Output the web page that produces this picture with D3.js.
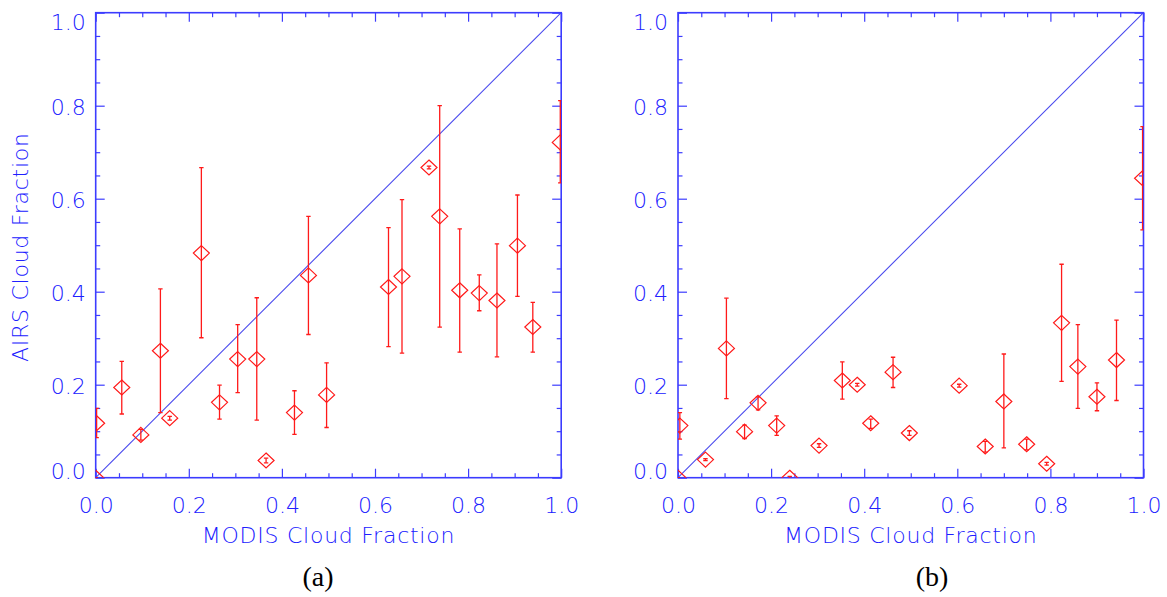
<!DOCTYPE html>
<html>
<head>
<meta charset="utf-8">
<script src="https://cdn.jsdelivr.net/npm/d3@7"></script>
<style>
  body { margin: 0; background: #fff; }
  .lbl { font-family: 'DejaVu Sans', sans-serif; font-weight: 200; font-size: 22px; }
</style>
</head>
<body>
<div id="chart"></div>
<script>
// ---- data: panel (a) ----
const modisA = [0.0, 0.002, 0.056, 0.097, 0.139, 0.159, 0.227, 0.266, 0.305, 0.346, 0.366, 0.427,
                0.457, 0.496, 0.629, 0.658, 0.716, 0.739, 0.782, 0.824, 0.862, 0.906, 0.939, 0.998];
const airsA  = [0.0, 0.117, 0.194, 0.092, 0.273, 0.128, 0.483, 0.162, 0.255, 0.255, 0.037, 0.140,
                0.435, 0.178, 0.410, 0.433, 0.667, 0.562, 0.403, 0.397, 0.381, 0.499, 0.324, 0.721];
const lowA   = [0.0, 0.086, 0.137, 0.081, 0.140, 0.124, 0.301, 0.126, 0.183, 0.124, 0.032, 0.093,
                0.308, 0.108, 0.282, 0.268, 0.664, 0.324, 0.270, 0.359, 0.260, 0.390, 0.270, 0.634];
const highA  = [0.0, 0.149, 0.250, 0.104, 0.406, 0.132, 0.667, 0.199, 0.329, 0.387, 0.042, 0.187,
                0.562, 0.247, 0.538, 0.598, 0.670, 0.800, 0.535, 0.436, 0.503, 0.608, 0.377, 0.811];

// ---- data: panel (b) ----
const modisB = [0.0, 0.004, 0.059, 0.104, 0.143, 0.172, 0.212, 0.240, 0.303, 0.353, 0.385, 0.414,
                0.462, 0.497, 0.604, 0.660, 0.700, 0.749, 0.792, 0.824, 0.859, 0.900, 0.942, 0.998];
const airsB  = [0.0, 0.112, 0.039, 0.278, 0.099, 0.161, 0.112, 0.0, 0.069, 0.209, 0.200, 0.117,
                0.227, 0.096, 0.198, 0.067, 0.164, 0.072, 0.030, 0.333, 0.239, 0.174, 0.253, 0.644];
const lowB   = [0.0, 0.083, 0.037, 0.170, 0.084, 0.146, 0.091, -0.003, 0.065, 0.169, 0.197, 0.106,
                0.194, 0.091, 0.195, 0.055, 0.064, 0.060, 0.027, 0.207, 0.149, 0.144, 0.166, 0.533];
const highB  = [0.0, 0.140, 0.041, 0.386, 0.113, 0.174, 0.133, 0.003, 0.073, 0.249, 0.203, 0.126,
                0.259, 0.101, 0.201, 0.078, 0.266, 0.083, 0.033, 0.459, 0.329, 0.204, 0.339, 0.755];

// ---- ticks / labels ----
const majorTicks = [0, 0.2, 0.4, 0.6, 0.8, 1.0];
const minorTicks = [0.05, 0.1, 0.15, 0.25, 0.3, 0.35, 0.45, 0.5, 0.55, 0.65, 0.7, 0.75, 0.85, 0.9, 0.95];
const xTitle = "MODIS Cloud Fraction";
const yTitle = "AIRS Cloud Fraction";
const panelTags = ["(a)", "(b)"];

const W = 1167, H = 597;
const plotW = 465.5, plotH = 465, plotTop = 12.7;
const blue = "#3c3cff", textBlue = "#2020ff", red = "#ff1a1a";

const svg = d3.select("#chart")
    .append("svg")
    .attr("width", W)
    .attr("height", H);

const panels = [
    {left: 95.7, x: modisA, y: airsA, lo: lowA, hi: highA, tag: panelTags[0], tagX: 318, yTitle: true},
    {left: 678, x: modisB, y: airsB, lo: lowB, hi: highB, tag: panelTags[1], tagX: 932, yTitle: false}
];

panels.forEach(function (p, pi) {
    const g = svg.append("g").attr("transform", `translate(${p.left}, ${plotTop})`);

    const x = d3.scaleLinear().domain([0, 1]).range([0, plotW]);
    const y = d3.scaleLinear().domain([0, 1]).range([plotH, 0]);

    // clip for the markers
    g.append("clipPath").attr("id", "clip" + pi)
        .append("rect").attr("width", plotW).attr("height", plotH);

    // 1:1 line
    g.append("line")
        .attr("x1", x(0)).attr("y1", y(0))
        .attr("x2", x(1)).attr("y2", y(1))
        .attr("stroke", "#4a4aee")
        .attr("stroke-width", 1.1);

    // axes, ticks pointing inward on all four sides
    const sides = [
        {fn: d3.axisBottom, scale: x, tr: `translate(0, ${plotH})`, labels: true},
        {fn: d3.axisTop, scale: x, tr: `translate(0, 0)`, labels: false},
        {fn: d3.axisLeft, scale: y, tr: `translate(0, 0)`, labels: true},
        {fn: d3.axisRight, scale: y, tr: `translate(${plotW}, 0)`, labels: false}
    ];

    sides.forEach(function (s) {
        // minor
        g.append("g")
            .attr("transform", s.tr)
            .call(s.fn(s.scale).tickValues(minorTicks).tickSize(-4.5).tickFormat(""))
            .call(a => a.select(".domain").remove())
            .call(a => a.selectAll("line").attr("stroke", blue).attr("stroke-width", 1.2));
        // major
        const ag = g.append("g")
            .attr("transform", s.tr)
            .call(s.fn(s.scale).tickValues(majorTicks).tickSize(-9).tickPadding(10)
                .tickFormat(s.labels ? d3.format(".1f") : ""))
            .call(a => a.select(".domain").remove())
            .call(a => a.selectAll("line").attr("stroke", blue).attr("stroke-width", 1.2));
        ag.attr("font-family", null).attr("font-size", null);
        ag.selectAll("text")
            .attr("class", "lbl")
            .attr("fill", textBlue);
        if (s.fn === d3.axisBottom) {
            ag.selectAll("text").attr("y", 35.5).attr("dy", 0);
        }
        if (s.fn === d3.axisLeft) {
            ag.selectAll("text").attr("dy", d => d === 1 ? 16.3 : d === 0 ? 0.5 : 9.2);
        }
    });

    // frame
    g.append("rect")
        .attr("width", plotW).attr("height", plotH)
        .attr("fill", "none")
        .attr("stroke", blue)
        .attr("stroke-width", 1.6);

    // markers + error bars
    const pts = p.x.map((v, i) => ({x: v, y: p.y[i], lo: p.lo[i], hi: p.hi[i]}));
    const marks = g.append("g").attr("clip-path", `url(#clip${pi})`)
        .selectAll("g")
        .data(pts)
        .enter()
        .append("g")
        .attr("stroke", red)
        .attr("fill", "none");

    marks.append("line")
        .attr("x1", d => x(d.x)).attr("x2", d => x(d.x))
        .attr("y1", d => y(d.lo)).attr("y2", d => y(d.hi))
        .attr("stroke-width", 1.3);
    marks.append("line")
        .attr("x1", d => x(d.x) - 2.2).attr("x2", d => x(d.x) + 2.2)
        .attr("y1", d => y(d.lo)).attr("y2", d => y(d.lo))
        .attr("stroke-width", 1.3);
    marks.append("line")
        .attr("x1", d => x(d.x) - 2.2).attr("x2", d => x(d.x) + 2.2)
        .attr("y1", d => y(d.hi)).attr("y2", d => y(d.hi))
        .attr("stroke-width", 1.3);
    marks.append("path")
        .attr("transform", d => `translate(${x(d.x)}, ${y(d.y)})`)
        .attr("d", "M0,-7.5L8,0L0,7.5L-8,0Z")
        .attr("stroke-width", 1.2);

    // titles
    g.append("text")
        .attr("class", "lbl")
        .attr("x", plotW / 2)
        .attr("y", 543.3 - plotTop)
        .attr("text-anchor", "middle")
        .attr("fill", textBlue)
        .style("letter-spacing", "0.75px")
        .text(xTitle);

    if (p.yTitle) {
        g.append("text")
            .attr("class", "lbl")
            .attr("transform", `translate(${28 - p.left}, ${plotH / 2 + 2}) rotate(-90)`)
            .attr("text-anchor", "middle")
            .attr("fill", textBlue)
            .style("letter-spacing", "0.75px")
            .text(yTitle);
    }

    svg.append("text")
        .attr("x", p.tagX)
        .attr("y", 586)
        .attr("text-anchor", "middle")
        .attr("fill", "#000")
        .style("font-family", "'Liberation Serif', 'Times New Roman', serif")
        .style("font-size", "28px")
        .text(p.tag);
});
</script>
</body>
</html>
